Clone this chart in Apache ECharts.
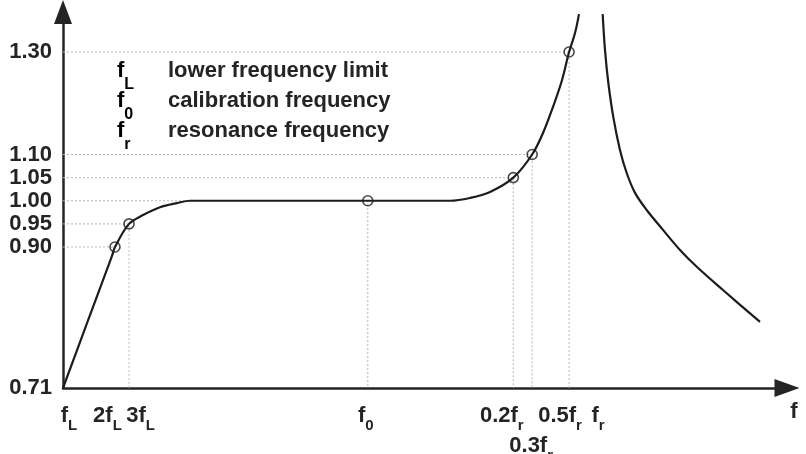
<!DOCTYPE html>
<html><head><meta charset="utf-8">
<script src="https://cdn.jsdelivr.net/npm/echarts@6/dist/echarts.min.js"></script>
<style>html,body{margin:0;padding:0;background:#fff}#c{width:806px;height:454px}</style>
</head><body><div id="c"></div>
<script>
// ---------- data ----------
const yTickValues = [0.71, 0.90, 0.95, 1.00, 1.05, 1.10, 1.30];
const yTickLabels = ['0.71', '0.90', '0.95', '1.00', '1.05', '1.10', '1.30'];

// x is a schematic (non-linear) frequency position, 0 = fL, 100 = axis end
const xTickValues = [0, 7.18, 9.12, 42.1, 62.2, 64.8, 69.9, 73.9];
const xTickMain = ['f', '2f', '3f', 'f', '0.2f', '0.3f', '0.5f', 'f'];
const xTickSub = ['L', 'L', 'L', '0', 'r', 'r', 'r', 'r'];

const markerX = [7.18, 9.12, 42.1, 62.2, 64.8, 69.9];
const markerY = [0.90, 0.95, 1.00, 1.05, 1.10, 1.30];
const markerDropDown = [false, true, true, true, true, true];

const curveBelowX = [0, 3.38, 6.77, 7.18, 9.12, 11.05, 13.4, 15.75, 17.54, 42.1, 50.69, 53.45, 56.22, 58.98, 62.2, 64.8, 66.3, 67.68, 68.92, 69.9, 70.72, 71.27];
const curveBelowY = [0.71, 0.799, 0.888, 0.90, 0.95, 0.969, 0.986, 0.995, 1.00, 1.00, 1.00, 1.00, 1.006, 1.019, 1.05, 1.10, 1.142, 1.193, 1.245, 1.30, 1.337, 1.374];
const curveAboveX = [74.54, 74.86, 75.32, 76.01, 76.93, 77.86, 79.01, 80.62, 82.87, 85.22, 87.57, 91.16, 96.27];
const curveAboveY = [1.374, 1.304, 1.240, 1.173, 1.109, 1.060, 1.017, 0.980, 0.937, 0.896, 0.873, 0.842, 0.799];

const legendMain = ['f', 'f', 'f'];
const legendSub = ['L', '0', 'r'];
const legendText = ['lower frequency limit', 'calibration frequency', 'resonance frequency'];

// ---------- scale / style ----------
const FONT = '"Liberation Sans", Arial, sans-serif';
const INK = '#242424';
// broken (piecewise linear) value axis: [value, axis unit]
const yScaleBreaks = [[0.71, 0], [0.90, 141], [1.10, 233.5], [1.30, 336]];
function yMap(v) {
  const b = yScaleBreaks;
  let i = 0;
  while (i < b.length - 2 && v > b[i + 1][0]) i++;
  const [v0, u0] = b[i], [v1, u1] = b[i + 1];
  return u0 + (v - v0) * (u1 - u0) / (v1 - v0);
}
const yTickPos = yTickValues.map(yMap);
function nearestIdx(arr, v) {
  let best = 0;
  arr.forEach((a, i) => { if (Math.abs(a - v) < Math.abs(arr[best] - v)) best = i; });
  return best;
}
const xLabelShift = [6, -7.5, 11.5, -2, -11.5, -1, -9, 0];
const xLabelRow = [0, 0, 0, 0, 0, 1, 0, 0];

const xRich = { gap: { fontSize: 10, lineHeight: 30 } };
xTickValues.forEach((v, i) => {
  const s = xLabelShift[i];
  xRich['m' + i] = { fontSize: 22, fontWeight: 'bold', fontFamily: FONT, color: INK, padding: [0, 0, 0, s > 0 ? 2 * s : 0] };
  xRich['s' + i] = { fontSize: 15, fontWeight: 'bold', fontFamily: FONT, color: INK, padding: [19, s < 0 ? -2 * s : 0, 0, 0] };
});

const legendRich = {
  m: { fontSize: 22, fontWeight: 'bold', fontFamily: FONT, color: INK },
  s: { fontSize: 16, fontWeight: 'bold', fontFamily: FONT, color: INK, padding: [27, 0, 0, 0] }
};

const dropStyle = { color: '#b5b5b5', width: 1, type: [2, 2] };
const dropSeries = markerX.map((x, i) => {
  const y = yMap(markerY[i]);
  const pts = [[0, y], [x, y]];
  if (markerDropDown[i]) pts.push([x, 0]);
  return { type: 'line', data: pts, symbol: 'none', silent: true, z: 1, lineStyle: dropStyle, animation: false };
});

const graphics = [];
legendText.forEach((t, i) => {
  const y = 71 + 30 * i;
  graphics.push({ type: 'text', x: 117, y: y, style: { text: '{m|' + legendMain[i] + '}{s|' + legendSub[i] + '}', rich: legendRich, verticalAlign: 'middle', align: 'left' } });
  graphics.push({ type: 'text', x: 168, y: y, style: { text: t, font: 'bold 22px ' + FONT, fill: INK, verticalAlign: 'middle', align: 'left' } });
});

const chart = echarts.init(document.getElementById('c'), null, { renderer: 'canvas' });
chart.setOption({
  backgroundColor: '#fff',
  animation: false,
  grid: { left: 63, right: 19, top: 12, bottom: 66, containLabel: false, outerBoundsMode: 'none' },
  xAxis: {
    type: 'value', min: 0, max: 100,
    axisLine: { onZero: true, lineStyle: { color: INK, width: 2.5 }, symbol: ['none', 'triangle'], symbolSize: [18, 25] },
    axisTick: { show: false },
    splitLine: { show: false },
    axisLabel: {
      customValues: xTickValues, margin: 11, hideOverlap: false,
      formatter: function (v) {
        const i = nearestIdx(xTickValues, v);
        const s = '{m' + i + '|' + xTickMain[i] + '}{s' + i + '|' + xTickSub[i] + '}';
        return xLabelRow[i] ? '{gap| }\n' + s : s;
      },
      rich: xRich
    },
    name: 'f', nameLocation: 'end', nameGap: 7,
    nameTextStyle: { fontSize: 22, fontWeight: 'bold', fontFamily: FONT, color: INK, verticalAlign: 'top', align: 'center', padding: [13, 0, 0, 0] }
  },
  yAxis: {
    type: 'value', min: 0, max: 376,
    axisLine: { onZero: true, lineStyle: { color: INK, width: 2.5 }, symbol: ['none', 'triangle'], symbolSize: [18, 24] },
    axisTick: { show: false },
    splitLine: { show: false },
    axisLabel: {
      customValues: yTickPos, margin: 11, hideOverlap: false,
      fontSize: 22, fontWeight: 'bold', fontFamily: FONT, color: INK,
      formatter: function (v) { return yTickLabels[nearestIdx(yTickPos, v)]; }
    }
  },
  graphic: graphics,
  series: dropSeries.concat([
    { name: 'below resonance', type: 'line', data: curveBelowX.map((x, i) => [x, yMap(curveBelowY[i])]), smooth: 0.35, symbol: 'none', z: 3, lineStyle: { color: '#1c1c1c', width: 2.2 } },
    { name: 'above resonance', type: 'line', data: curveAboveX.map((x, i) => [x, yMap(curveAboveY[i])]), smooth: 0.35, symbol: 'none', z: 3, lineStyle: { color: '#1c1c1c', width: 2.2 } },
    { name: 'points', type: 'scatter', data: markerX.map((x, i) => [x, yMap(markerY[i])]), symbol: 'circle', symbolSize: 10, z: 4,
      itemStyle: { color: 'rgba(255,255,255,0)', borderColor: '#1c1c1c', borderWidth: 1.6 } }
  ])
});
</script>
</body></html>
